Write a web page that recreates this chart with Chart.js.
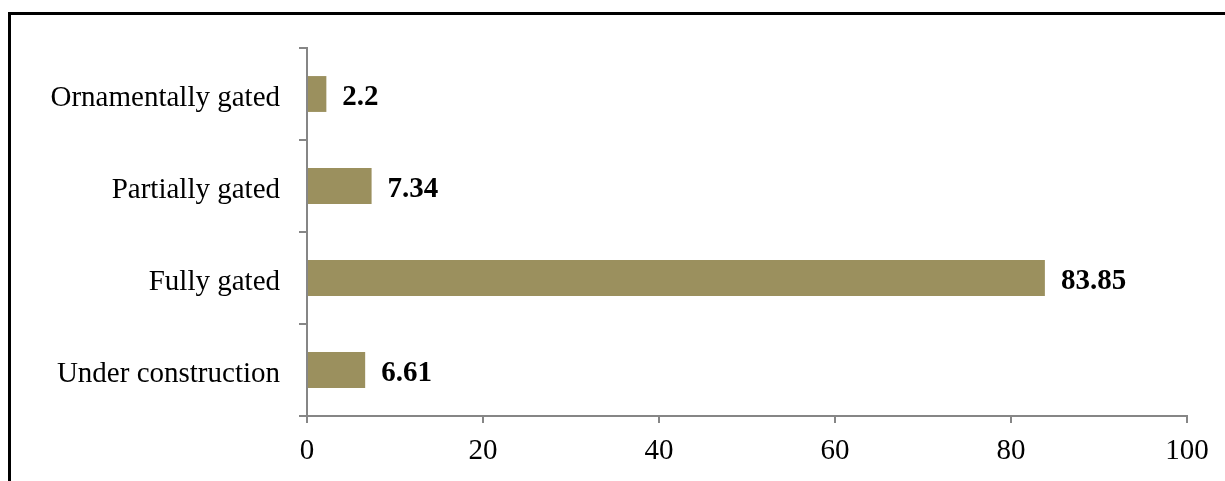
<!DOCTYPE html>
<html>
<head>
<meta charset="utf-8">
<script src="https://cdn.jsdelivr.net/npm/chart.js@4"></script>
<style>
  html, body { margin: 0; padding: 0; background: #fff; overflow: hidden; }
  #wrap { position: relative; width: 1225px; height: 481px; }
  #frame {
    position: absolute; left: 8px; top: 12px; width: 1400px; height: 700px;
    border-left: 3px solid #000; border-top: 3px solid #000;
  }
  canvas { position: absolute; left: 0; top: 0; }
</style>
</head>
<body>
<div id="wrap">
  <div id="frame"></div>
  <canvas id="chart" width="1225" height="481"></canvas>
</div>
<script>
const categories = ['Ornamentally gated', 'Partially gated', 'Fully gated', 'Under construction'];
const shares = [2.2, 7.34, 83.85, 6.61];
const xTicks = [0, 20, 40, 60, 80, 100];

const FONT = 'Liberation Serif, Times New Roman, serif';
const AXIS_GREY = '#868686';

// write each value just past the end of its bar
const valueLabels = {
  id: 'valueLabels',
  afterDatasetsDraw(chart) {
    const ctx = chart.ctx;
    const meta = chart.getDatasetMeta(0);
    ctx.save();
    ctx.font = 'bold 29px ' + FONT;
    ctx.fillStyle = '#000';
    ctx.textAlign = 'left';
    ctx.textBaseline = 'middle';
    meta.data.forEach((bar, i) => {
      ctx.fillText(String(shares[i]), bar.x + 16, bar.y + 4);
    });
    ctx.restore();
  }
};

new Chart(document.getElementById('chart'), {
  type: 'bar',
  data: {
    labels: categories,
    datasets: [{
      data: shares,
      backgroundColor: '#9b905e',
      borderWidth: 0,
      barPercentage: 0.39,
      categoryPercentage: 1
    }]
  },
  options: {
    indexAxis: 'y',
    responsive: false,
    animation: false,
    layout: { padding: { top: 48, right: 38, bottom: 0, left: 0 } },
    plugins: { legend: { display: false }, tooltip: { enabled: false } },
    scales: {
      x: {
        min: 0,
        max: 100,
        afterBuildTicks(scale) {
          scale.ticks = xTicks.map(v => ({ value: v }));
        },
        afterFit(scale) { scale.height = 65; },
        grid: { drawOnChartArea: false, tickLength: 7, color: AXIS_GREY, lineWidth: 2 },
        border: { color: AXIS_GREY, width: 2 },
        ticks: { color: '#000', font: { family: FONT, size: 29 }, padding: 11, maxRotation: 0 }
      },
      y: {
        afterFit(scale) { scale.width = 307; },
        grid: { drawOnChartArea: false, offset: true, tickLength: 8, color: AXIS_GREY, lineWidth: 2 },
        border: { color: AXIS_GREY, width: 2 },
        ticks: { color: '#000', font: { family: FONT, size: 29 }, padding: 19, labelOffset: 4 }
      }
    }
  },
  plugins: [valueLabels]
});
</script>
</body>
</html>
